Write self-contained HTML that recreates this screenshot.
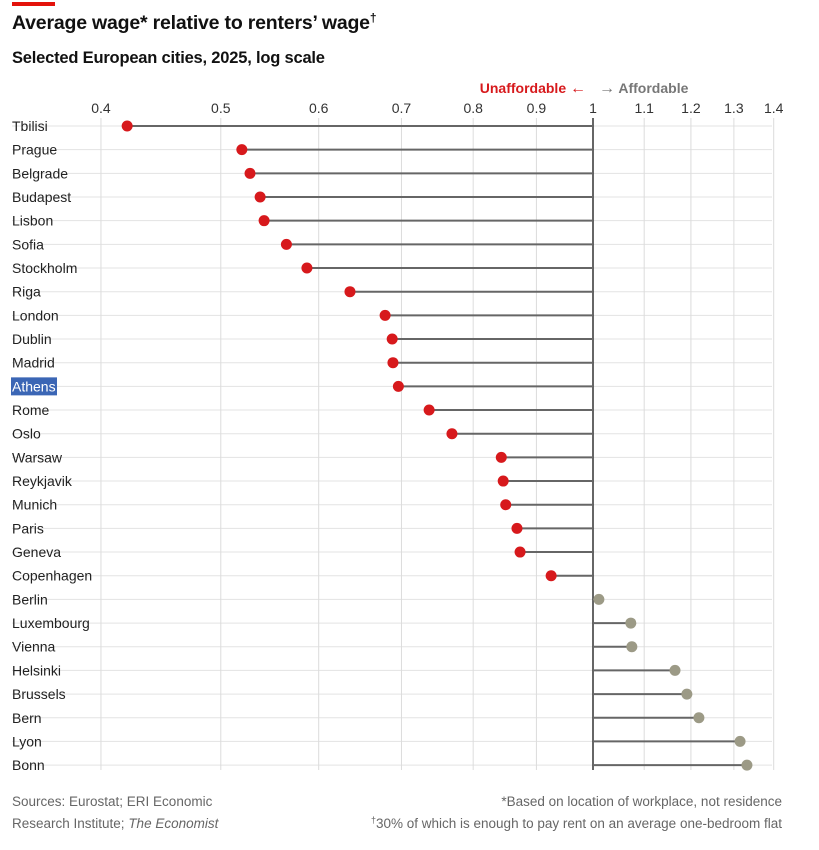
<!DOCTYPE html>
<html><head><meta charset="utf-8"><style>
body{margin:0;background:#fff;width:819px;height:845px;overflow:hidden;font-family:"Liberation Sans",sans-serif;}
svg text{font-family:"Liberation Sans",sans-serif;}
</style></head><body>
<svg id="chart" width="819" height="845">
<rect x="12" y="2" width="43" height="4" fill="#e3120b"/>
<text x="12" y="29" font-size="19.5" font-weight="bold" fill="#111" letter-spacing="-0.2">Average wage* relative to renters’ wage<tspan font-size="12" dy="-7">†</tspan></text>
<text x="12" y="63" font-size="16.5" font-weight="bold" fill="#111" letter-spacing="-0.2">Selected European cities, 2025, log scale</text>
<text x="586" y="93" font-size="14" font-weight="bold" fill="#d7191c" text-anchor="end">Unaffordable <tspan font-size="16">←</tspan></text>
<text x="599" y="93" font-size="14" font-weight="bold" fill="#777"><tspan font-size="16">→</tspan> Affordable</text>
<g id="grid"></g><g id="marks"></g><g id="labels"></g>
<text x="12" y="806" font-size="13.5" fill="#666">Sources: Eurostat; ERI Economic</text>
<text x="12" y="828" font-size="13.5" fill="#666">Research Institute; <tspan font-style="italic">The Economist</tspan></text>
<text x="782" y="806" font-size="13.5" fill="#666" text-anchor="end">*Based on location of workplace, not residence</text>
<text x="782" y="828" font-size="13.5" fill="#666" text-anchor="end"><tspan font-size="9" dy="-5">†</tspan><tspan dy="5">30% of which is enough to pay rent on an average one-bedroom flat</tspan></text>
</svg>
<script>
const cities=["Tbilisi","Prague","Belgrade","Budapest","Lisbon","Sofia","Stockholm","Riga","London","Dublin","Madrid","Athens","Rome","Oslo","Warsaw","Reykjavik","Munich","Paris","Geneva","Copenhagen","Berlin","Luxembourg","Vienna","Helsinki","Brussels","Bern","Lyon","Bonn"];
const values=[0.42,0.52,0.528,0.538,0.542,0.565,0.587,0.636,0.679,0.688,0.689,0.696,0.737,0.769,0.843,0.846,0.85,0.868,0.873,0.925,1.011,1.073,1.075,1.165,1.191,1.218,1.315,1.332];
const ticks=[0.4,0.5,0.6,0.7,0.8,0.9,1,1.1,1.2,1.3,1.4];
const tickLabels=["0.4","0.5","0.6","0.7","0.8","0.9","1","1.1","1.2","1.3","1.4"];
const NS="http://www.w3.org/2000/svg";
const x=v=>593+537*Math.log(v);
const y=i=>126+i*23.67;
function mk(t,a,p){const e=document.createElementNS(NS,t);for(const k in a)e.setAttribute(k,a[k]);p.appendChild(e);return e;}
const grid=document.getElementById('grid'),marks=document.getElementById('marks'),labels=document.getElementById('labels');
cities.forEach((c,i)=>{
 const l=mk('line',{x1:12,x2:772,y1:y(i),y2:y(i),stroke:'#e3e3e3','stroke-width':1},grid);
 
 
});
ticks.forEach((t,i)=>{
 const g=mk('line',{x1:x(t),x2:x(t),y1:118,y2:770,stroke:t===1?'#333':'#dcdcdc','stroke-width':t===1?1.5:1},grid);
 
 
 const tx=mk('text',{x:x(t),y:113,'font-size':14,fill:'#333','text-anchor':'middle'},labels);
 tx.textContent=tickLabels[i];
 
 
});
cities.forEach((c,i)=>{
 const v=values[i],col=v<1?'#d7191c':'#9c9a86';
 const ln=mk('line',{x1:x(v),x2:x(1),y1:y(i),y2:y(i),stroke:'#666','stroke-width':2},marks);
 
 
 const d=mk('circle',{cx:x(v),cy:y(i),r:5.5,fill:col},marks);
 
 
 if(c==="Athens"){mk('rect',{x:11,y:y(i)-9,width:46,height:18,fill:'#3b66b5'},labels);}
 const t=mk('text',{x:12,y:y(i)+5,'font-size':14,fill:c==="Athens"?'#fff':'#222'},labels);
 t.textContent=c;
 
 
});
</script>
</body></html>
